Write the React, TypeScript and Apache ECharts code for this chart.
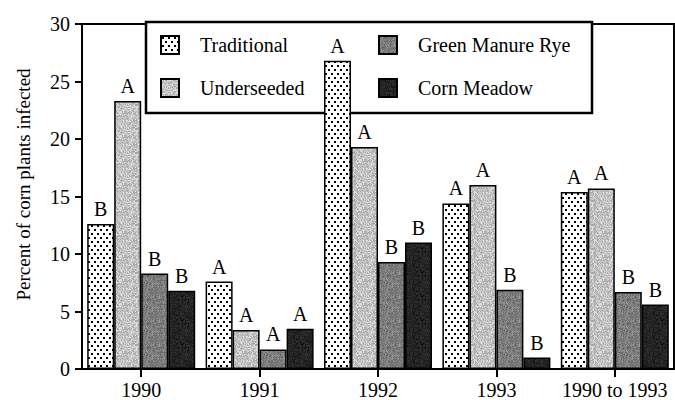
import React, { useEffect, useRef } from "react";
import * as echarts from "echarts";

const categories = ["1990", "1991", "1992", "1993", "1990 to 1993"];
const seriesNames = ["Traditional", "Underseeded", "Green Manure Rye", "Corn Meadow"];
const traditional = [12.6, 7.6, 26.8, 14.4, 15.4];
const underseeded = [23.3, 3.4, 19.3, 16.0, 15.7];
const greenManureRye = [8.3, 1.7, 9.3, 6.9, 6.7];
const cornMeadow = [6.8, 3.5, 11.0, 1.0, 5.6];
const traditionalLetters = ["B", "A", "A", "A", "A"];
const underseededLetters = ["A", "A", "A", "A", "A"];
const greenManureRyeLetters = ["B", "A", "B", "B", "B"];
const cornMeadowLetters = ["B", "A", "B", "B", "B"];
const yTicks = [0, 5, 10, 15, 20, 25, 30];

const FONT = "'Liberation Serif', 'Times New Roman', serif";

function dotPattern() {
  const w = 6;
  const h = 8;
  const c = document.createElement("canvas");
  c.width = w;
  c.height = h;
  const ctx = c.getContext("2d")!;
  ctx.fillStyle = "#fff";
  ctx.fillRect(0, 0, w, h);
  ctx.fillStyle = "#000";
  ctx.fillRect(1, 1, 2, 2);
  ctx.fillRect(4, 5, 2, 2);
  return { image: c.toDataURL(), repeat: "repeat", imageWidth: w, imageHeight: h };
}

function noisePattern(base: number, amp: number, seed: number) {
  const w = 24;
  const h = 24;
  const c = document.createElement("canvas");
  c.width = w;
  c.height = h;
  const ctx = c.getContext("2d")!;
  const img = ctx.createImageData(w, h);
  let s = seed;
  for (let i = 0; i < w * h; i++) {
    s = (s * 1103515245 + 12345) & 0x7fffffff;
    const r = s / 0x7fffffff;
    const v = Math.max(0, Math.min(255, Math.round(base + (r - 0.5) * amp)));
    img.data[i * 4] = v;
    img.data[i * 4 + 1] = v;
    img.data[i * 4 + 2] = v;
    img.data[i * 4 + 3] = 255;
  }
  ctx.putImageData(img, 0, 0);
  return { image: c.toDataURL(), repeat: "repeat", imageWidth: w, imageHeight: h };
}

export default function App() {
  const ref = useRef<HTMLDivElement>(null);
  useEffect(() => {
    if (!ref.current) return;
    const chart = echarts.init(ref.current, null, { renderer: "svg" });
    const fills = [
      dotPattern(),
      noisePattern(195, 70, 7),
      noisePattern(125, 60, 13),
      noisePattern(35, 40, 29),
    ];
    const values = [traditional, underseeded, greenManureRye, cornMeadow];
    const letters = [traditionalLetters, underseededLetters, greenManureRyeLetters, cornMeadowLetters];
    const series = seriesNames.map((name, i) => ({
      name,
      type: "bar",
      data: values[i],
      barWidth: 27,
      barGap: "0%",
      z: 3,
      itemStyle: { color: fills[i], borderColor: "#000", borderWidth: 1.5 },
      label: {
        show: true,
        position: "top",
        distance: 5,
        formatter: (p: any) => letters[i][p.dataIndex],
        color: "#000",
        fontSize: 20,
        fontFamily: FONT,
      },
    }));
    const legendCommon = {
      orient: "vertical",
      top: 30,
      itemWidth: 18,
      itemHeight: 18,
      itemGap: 23,
      icon: "rect",
      z: 2,
      itemStyle: { borderColor: "#000", borderWidth: 2 },
      textStyle: { fontSize: 20, fontFamily: FONT, color: "#000", padding: [0, 0, 0, 16] },
      selectedMode: false,
    };
    chart.setOption({
      animation: false,
      backgroundColor: "#fff",
      grid: {
        left: 82,
        right: 1,
        top: 24,
        bottom: 31,
        show: true,
        borderColor: "#000",
        borderWidth: 2,
      },
      legend: [
        { ...legendCommon, left: 155, data: [seriesNames[0], seriesNames[1]] },
        { ...legendCommon, left: 373, data: [seriesNames[2], seriesNames[3]] },
      ],
      graphic: [
        {
          type: "rect",
          z: 1,
          shape: { x: 146, y: 22, width: 446, height: 91 },
          style: { fill: "#fff", stroke: "#000", lineWidth: 2.5 },
        },
      ],
      xAxis: {
        type: "category",
        data: categories,
        axisLine: { show: true, lineStyle: { color: "#000", width: 2 } },
        axisTick: { show: true, alignWithLabel: true, length: 8, lineStyle: { color: "#000", width: 2 } },
        axisLabel: { color: "#000", fontSize: 20, fontFamily: FONT, margin: 11, interval: 0 },
      },
      yAxis: {
        type: "value",
        min: yTicks[0],
        max: yTicks[yTicks.length - 1],
        interval: 5,
        name: "Percent of corn plants infected",
        nameLocation: "middle",
        nameGap: 49,
        nameTextStyle: { color: "#000", fontSize: 19, fontFamily: FONT, padding: [0, 0, 0, 24] },
        axisLine: { show: true, lineStyle: { color: "#000", width: 2 } },
        axisTick: { show: true, length: 7, lineStyle: { color: "#000", width: 2 } },
        axisLabel: { color: "#000", fontSize: 20, fontFamily: FONT, margin: 12 },
        splitLine: { show: false },
      },
      series,
    });
    return () => chart.dispose();
  }, []);
  return (
    <div
      ref={ref}
      style={{ position: "fixed", left: 0, top: 0, width: 675, height: 400, background: "#fff" }}
    />
  );
}
